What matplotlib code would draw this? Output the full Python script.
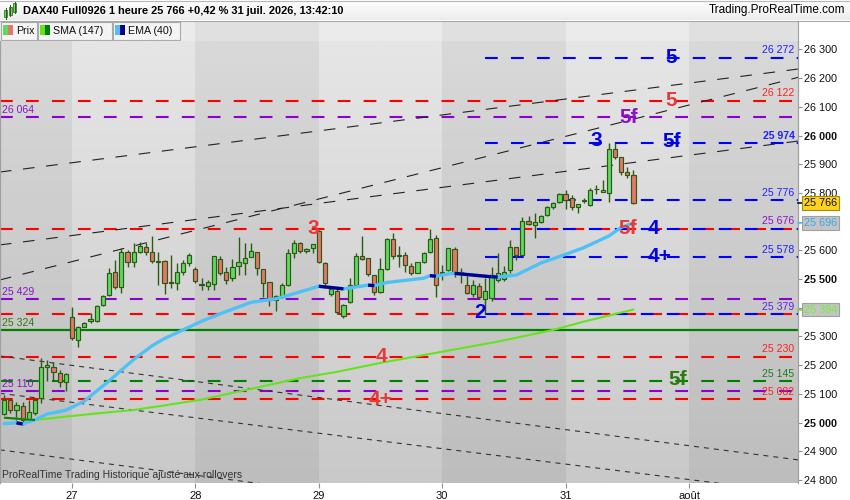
import numpy as np
import matplotlib
matplotlib.use("Agg")
import matplotlib.pyplot as plt
from matplotlib.patches import Rectangle
from matplotlib.colors import LinearSegmentedColormap
from matplotlib.transforms import blended_transform_factory

plt.rcParams['font.family'] = ['Liberation Sans', 'DejaVu Sans']
plt.rcParams['lines.scale_dashes'] = False

# hourly bars, index 0 = first bar of monday 27
bar_index = list(range(-11, 92))
opens = [25030, 25079, 25044, 25058, 25009, 25032, 25085, 25195, 25195, 25174, 25140,
         25367, 25288, 25334, 25355, 25354, 25410, 25445, 25526, 25474, 25596, 25561, 25596, 25611, 25596, 25564, 25564, 25485, 25485, 25526, 25555,
         25534, 25483, 25476, 25483, 25569, 25526, 25503, 25547, 25557, 25578, 25596, 25534, 25491, 25427, 25439, 25479, 25590, 25625, 25597, 25607,
         25669, 25557, 25448, 25460, 25373, 25421, 25479, 25580, 25572, 25514, 25456, 25534, 25639, 25585, 25584, 25546, 25520, 25558, 25595, 25642,
         25526, 25532, 25604, 25520, 25479, 25448, 25476, 25430, 25433, 25497, 25500, 25532, 25612, 25585, 25702, 25689, 25698, 25723, 25750, 25770,
         25797, 25781, 25750, 25773, 25758, 25813, 25805, 25799, 25952, 25924, 25874, 25863]
highs = [25096, 25085, 25073, 25073, 25079, 25085, 25224, 25218, 25212, 25183, 25172,
         25402, 25337, 25349, 25381, 25410, 25445, 25538, 25567, 25607, 25601, 25625, 25630, 25625, 25650, 25595, 25567, 25584, 25555, 25567, 25590,
         25543, 25503, 25497, 25580, 25580, 25543, 25569, 25645, 25625, 25625, 25596, 25534, 25491, 25445, 25485, 25604, 25636, 25630, 25607, 25621,
         25671, 25561, 25476, 25470, 25412, 25503, 25590, 25650, 25572, 25514, 25572, 25642, 25659, 25615, 25596, 25555, 25561, 25596, 25673, 25654,
         25550, 25610, 25613, 25538, 25515, 25497, 25485, 25505, 25543, 25590, 25545, 25636, 25612, 25715, 25720, 25729, 25725, 25755, 25770, 25800,
         25810, 25793, 25762, 25781, 25816, 25828, 25845, 25973, 25973, 25924, 25892, 25880]
lows = [25027, 25032, 25009, 24992, 25003, 25027, 25067, 25146, 25146, 25125, 25111,
        25288, 25265, 25332, 25348, 25352, 25406, 25441, 25464, 25450, 25543, 25543, 25590, 25584, 25557, 25479, 25448, 25468, 25462, 25514, 25546,
        25485, 25462, 25462, 25462, 25514, 25483, 25494, 25514, 25514, 25578, 25514, 25439, 25406, 25390, 25435, 25475, 25572, 25590, 25590, 25590,
        25557, 25470, 25440, 25378, 25365, 25418, 25476, 25567, 25511, 25445, 25452, 25531, 25569, 25543, 25526, 25514, 25520, 25555, 25590, 25439,
        25497, 25527, 25508, 25487, 25448, 25436, 25430, 25378, 25425, 25490, 25495, 25520, 25565, 25583, 25688, 25642, 25695, 25720, 25745, 25765,
        25745, 25741, 25730, 25764, 25756, 25797, 25803, 25770, 25920, 25863, 25851, 25760]
closes = [25079, 25044, 25061, 25009, 25038, 25079, 25195, 25201, 25177, 25143, 25169,
          25294, 25334, 25346, 25360, 25406, 25441, 25520, 25474, 25596, 25561, 25596, 25615, 25596, 25564, 25561, 25485, 25491, 25526, 25555, 25584,
          25495, 25478, 25490, 25580, 25522, 25497, 25543, 25561, 25572, 25599, 25538, 25488, 25427, 25441, 25479, 25590, 25627, 25599, 25604, 25621,
          25561, 25485, 25464, 25387, 25408, 25479, 25580, 25569, 25517, 25456, 25534, 25639, 25580, 25580, 25549, 25520, 25558, 25592, 25639, 25479,
          25520, 25607, 25520, 25523, 25450, 25479, 25439, 25460, 25514, 25520, 25525, 25612, 25585, 25703, 25692, 25700, 25720, 25750, 25766, 25797,
          25776, 25750, 25760, 25775, 25810, 25815, 25810, 25952, 25924, 25874, 25863, 25766]

day_ticks = [0, 20, 40, 60, 80, 100]
day_labels = ["27", "28", "29", "30", "31", "août"]

ema_index = [-11, -9, -8, -6, -4, -1, 2, 6, 10, 13, 15, 18, 21, 24, 29, 33, 35, 38, 40, 44, 45, 48, 49, 51,
             57, 58, 59, 61, 62, 68, 69, 72, 76, 80, 83, 87, 89, 91]
ema_values = [24996, 24999, 24995, 25010, 25030, 25043, 25075, 25145, 25220, 25268, 25293, 25323, 25353, 25379,
              25419, 25431, 25443, 25462, 25475, 25466, 25469, 25479, 25477, 25488, 25503, 25512, 25510, 25518,
              25520, 25508, 25507, 25514, 25556, 25586, 25610, 25650, 25680, 25696]
sma_index = [-11, -6, -1, 5, 10, 15, 21, 37, 43, 50, 60, 69, 78, 83, 91]
sma_values = [25017, 25009, 25021, 25034, 25044, 25060, 25080, 25155, 25177, 25208, 25247, 25282, 25323, 25352, 25394]

red_levels = [26122, 25676, 25379, 25230, 25082]
purple_levels = [26064, 25429, 25110]
green_levels = [25145]
support_level = 25324
blue_levels = [26272, 25974, 25776, 25676, 25578, 25379]
blue_start = 67

# trend lines as (bar, price, bar, price)
channel_lines = [(-11.7, 25619, 117.7, 25981), (-11.7, 25497, 117.7, 26203), (-11.7, 25873, 117.7, 26232)]
down_lines = [(-11.7, 25232, 117.7, 24870), (-11.7, 25102, 117.7, 24754), (-11.7, 24905, 117.7, 24545)]

wave_text = ["5", "5", "5f", "3", "5f", "5f", "4", "4+", "3", "2", "4", "4+", "5f"]
wave_x = [97.2, 97.2, 90.3, 85.0, 97.2, 90.1, 94.3, 95.3, 39.1, 66.1, 50.1, 50.0, 98.2]
wave_y = [26272, 26122, 26064, 25982, 25978, 25676, 25676, 25580, 25676, 25382, 25232, 25082, 25150]
wave_colors = ["#0000EE", "#E83838", "#8A14C0", "#0000EE", "#0000EE", "#E83838", "#0000EE", "#0000EE",
               "#E83838", "#0000EE", "#E83838", "#E83838", "#2E7A10"]

left_tags = [26064, 25429, 25324, 25110]
left_tag_colors = ["#8A14C8", "#8A14C8", "#2E7A10", "#8A14C8"]
right_tags = [26272, 26122, 25974, 25776, 25676, 25578, 25379, 25230, 25145, 25082]
right_tag_colors = ["#2020FF", "#FF2020", "#2020FF", "#2020FF", "#8A14C8", "#2020FF", "#5A28E0",
                    "#FF2020", "#1E7A1E", "#FF2020"]

BLUE, RED, PURPLE, GREEN = "#0000FF", "#FF0000", "#8C00D0", "#008000"
WICK = "#2B5B12"
EMA_C, EMA_DN = "#4FC1F5", "#00008B"
SMA_C, SMA_DN = "#66E31C", "#1A7A1A"
XMIN, XMAX = -11.67, 117.67
YMIN, YMAX = 24789.5, 26329.6


def fmt(v):
    return f"{int(round(v)):,}".replace(",", " ")


W, H = 850, 500
fig = plt.figure(figsize=(8.5, 5), dpi=100)
ov = fig.add_axes([0, 0, 1, 1], zorder=0)
ax = fig.add_axes([0, (H - 483) / H, 798 / W, (483 - 41) / H], zorder=1)

# header bars
ov.imshow(np.linspace(0, 1, 50).reshape(-1, 1), extent=[0, 850, 20, 0], aspect='auto',
          cmap=LinearSegmentedColormap.from_list('t', ['#FFFFFF', '#ECECEC']))
ov.add_patch(Rectangle((0, 20.5), 798, 20.5, fc='#EBEBEB', ec='none'))
ov.plot([0, 850], [20.5, 20.5], color='#A8A8A8', lw=0.8)
ov.plot([0, 850], [0.5, 0.5], color='#B8B8B8', lw=0.8)
ov.plot([798.5, 798.5], [20.5, 41], color='#A0A0A0', lw=0.8)
for cx, top, bot, wt, wb in [(6, 10, 17, 8, 19), (10.5, 7, 15, 5, 16), (15, 3, 12, 2, 13)]:
    ov.plot([cx, cx], [wt, wb], color=WICK, lw=0.7)
    ov.add_patch(Rectangle((cx - 1.5, top), 3, bot - top, fc='#5FD95F', ec=WICK, lw=0.5))
title = f"DAX40 Full0926 1 heure {fmt(closes[-1])} +0,42 % 31 juil. 2026, 13:42:10"
ov.text(23, 10.5, title, fontsize=7.9, fontweight='bold', va='center', ha='left')
ov.text(845, 10.5, "Trading.ProRealTime.com", fontsize=8.5, va='center', ha='right')

# day shading in the legend bar
bt = blended_transform_factory(ax.transData, ov.transData)
for a, b in [(20, 40), (60, 80), (100, XMAX)]:
    ov.add_patch(Rectangle((a, 20.5), b - a, 20.5, fc='#E0E0E0', ec='none', transform=bt))

legend_boxes = [(0.5, 37, "Prix", '#5FD95F', '#E7766A'), (38, 112, "SMA (147)", SMA_C, GREEN),
                (113, 180, "EMA (40)", EMA_C, EMA_DN)]
for x0, x1, lab, c1, c2 in legend_boxes:
    ov.add_patch(Rectangle((x0, 22), x1 - x0, 17.5, fc='#F4F4F4', ec='#AAAAAA', lw=0.8))
    ov.add_patch(Rectangle((x0 + 2.5, 25), 5, 10, fc=c1, ec='none'))
    ov.add_patch(Rectangle((x0 + 7.5, 25), 5, 10, fc=c2, ec='none'))
    ov.text(x0 + 15.5, 31, lab, fontsize=7.7, va='center', ha='left', color='#111111')
ov.set_xlim(0, 850)
ov.set_ylim(500, 0)
ov.axis('off')

# chart background
ax.imshow(np.linspace(0, 1, 256).reshape(-1, 1), extent=(0, 1, 0, 1), transform=ax.transAxes,
          aspect='auto', cmap=LinearSegmentedColormap.from_list('bg', ['#E6E6E6', '#C9C9C9']), zorder=0)
for a, b in [(XMIN, 0), (20, 40), (60, 80), (100, XMAX)]:
    ax.axvspan(a, b, color='black', alpha=0.055, lw=0, zorder=0.5)

# horizontal levels
dash = (9.2, 9.5)
for p in red_levels:
    ax.plot([XMIN, XMAX], [p, p], color=RED, lw=1.5, dashes=dash, zorder=1.2)
for p in purple_levels:
    ax.plot([XMIN, XMAX], [p, p], color=PURPLE, lw=1.5, dashes=dash, zorder=1.2)
for p in green_levels:
    ax.plot([XMIN, XMAX], [p, p], color=GREEN, lw=1.5, dashes=dash, zorder=1.2)
ax.plot([XMIN, XMAX], [support_level, support_level], color=GREEN, lw=1.6, zorder=1.2)
for p in blue_levels:
    ax.plot([blue_start, XMAX], [p, p], color=BLUE, lw=1.5, dashes=dash, zorder=1.3)

# trend lines
for x0, p0, x1, p1 in channel_lines:
    ax.plot([x0, x1], [p0, p1], color='#222222', lw=0.8, dashes=(8.4, 8.4), zorder=1.5)
for x0, p0, x1, p1 in down_lines:
    ax.plot([x0, x1], [p0, p1], color='#333333', lw=0.8, dashes=(3.6, 3.6), zorder=1.5)

# candles
o = np.array(opens)
c = np.array(closes)
fill = np.where(c >= o, '#5FD95F', '#E7766A')
ax.vlines(bar_index, lows, highs, color=WICK, lw=1.0, zorder=2.5)
ax.bar(bar_index, np.abs(c - o), bottom=np.minimum(o, c), width=0.68, color=fill,
       edgecolor=WICK, linewidth=0.85, zorder=3)


def draw_ma(idx, vals, col, dn_col, lw):
    ax.plot(idx, vals, color=col, lw=lw, solid_capstyle='round', zorder=4)
    for k in range(len(vals) - 1):
        if vals[k + 1] < vals[k]:
            ax.plot(idx[k:k + 2], vals[k:k + 2], color=dn_col, lw=lw, solid_capstyle='butt', zorder=4.1)


draw_ma(sma_index, sma_values, SMA_C, SMA_DN, 1.5)
draw_ma(ema_index, ema_values, EMA_C, EMA_DN, 2.4)

# wave labels
for t, x, y, col in zip(wave_text, wave_x, wave_y, wave_colors):
    ax.text(x, y, t, fontsize=15, fontweight='bold', color=col, ha='center', va='center', zorder=6)

# level values on the left and right
for p, col in zip(left_tags, left_tag_colors):
    ax.annotate(fmt(p), xy=(0, p), xycoords=('axes fraction', 'data'), xytext=(1.5, 1.5),
                textcoords='offset points', fontsize=7.6, color=col, ha='left', va='bottom', zorder=6)
for p, col in zip(right_tags, right_tag_colors):
    ax.annotate(fmt(p), xy=(1, p), xycoords=('axes fraction', 'data'), xytext=(-2.5, 1.5),
                textcoords='offset points', fontsize=7.6, color=col, ha='right', va='bottom', zorder=6,
                fontweight='bold' if p == 25974 else 'normal')

ax.text(0.003, 0.006, "ProRealTime Trading Historique ajusté aux rollovers", transform=ax.transAxes,
        fontsize=7.5, color='#333333', ha='left', va='bottom', zorder=6)

# axes
ax.set_xlim(XMIN, XMAX)
ax.set_ylim(YMIN, YMAX)
ax.yaxis.tick_right()
yt = list(range(24800, 26301, 100))
ax.set_yticks(yt)
ax.set_yticklabels([fmt(v) for v in yt])
for lab, v in zip(ax.get_yticklabels(), yt):
    if v % 500 == 0:
        lab.set_fontweight('bold')
ax.tick_params(axis='y', length=3, width=0.8, color='#909090', pad=1.5, labelsize=7.8, labelcolor='#111111')
ax.set_xticks(day_ticks)
ax.set_xticklabels(day_labels)
ax.tick_params(axis='x', length=3.5, width=0.8, color='#909090', pad=2, labelsize=8, labelcolor='#111111')
for s in ['top', 'bottom']:
    ax.spines[s].set_visible(False)
for s in ['left', 'right']:
    ax.spines[s].set_color('#A0A0A0')
    ax.spines[s].set_linewidth(0.9)

# last value tags
tr = blended_transform_factory(ax.transAxes, ax.transData)
for val, fc, tc, ec, mk in [(closes[-1], '#FFD21E', '#111111', '#A08A10', '#111111'),
                            (ema_values[-1], '#C4C4C4', '#3AA8E8', '#A0A0A0', EMA_C),
                            (sma_values[-1], '#C4C4C4', '#6EF52A', '#A0A0A0', SMA_C)]:
    ax.plot([1.0, 1.007], [val, val], color=mk, lw=1.2, transform=tr, clip_on=False, zorder=7)
    ax.annotate(fmt(val), xy=(1, val), xycoords=('axes fraction', 'data'), xytext=(4.5, 0),
                textcoords='offset points', fontsize=7.8, color=tc, ha='left', va='center',
                annotation_clip=False, zorder=8,
                bbox=dict(boxstyle='square,pad=0.18', fc=fc, ec=ec, lw=0.8))

fig.savefig("out.png", dpi=100, facecolor='white')
